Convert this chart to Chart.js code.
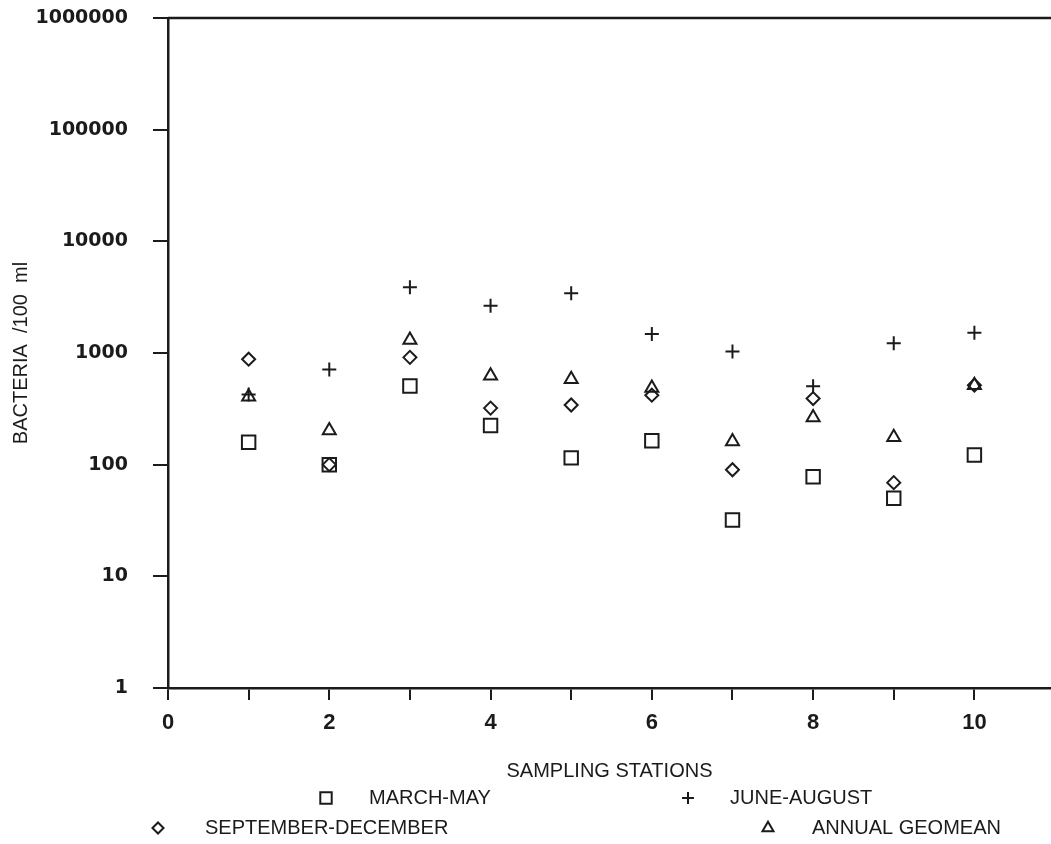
<!DOCTYPE html>
<html>
<head>
<meta charset="utf-8">
<title>Bacteria by sampling station</title>
<script src="https://cdn.jsdelivr.net/npm/chart.js"></script>
<style>
  html, body { margin: 0; padding: 0; background: #fff; }
  #wrap { width: 1051px; height: 844px; }
</style>
</head>
<body>
<div id="wrap"><canvas id="bactChart" width="1051" height="844"></canvas></div>
<script>
// values (bacteria per 100 ml, log scale)
const stations = [1, 2, 3, 4, 5, 6, 7, 8, 9, 10];
const marchMay = [159, 100, 507, 224, 115, 164, 32, 78, 50, 122];
const juneAugust = [425, 713, 3870, 2650, 3420, 1480, 1030, 505, 1220, 1520];
const septDec = [880, 100, 914, 321, 342, 419, 90, 391, 69, 515];
const annualGeomean = [405, 202, 1310, 624, 583, 487, 161, 264, 176, 515];

const seriesNames = ['MARCH-MAY', 'JUNE-AUGUST', 'SEPTEMBER-DECEMBER', 'ANNUAL GEOMEAN'];
const yTicks = [1, 10, 100, 1000, 10000, 100000, 1000000];
const xTicks = [0, 1, 2, 3, 4, 5, 6, 7, 8, 9, 10];

const ink = '#1b1b1b';

function pts(vals) {
  return stations.map((s, i) => ({ x: s, y: vals[i] }));
}

// top frame line of the plot box
const topFrame = {
  id: 'topFrame',
  afterDraw(chart) {
    const { ctx, chartArea } = chart;
    ctx.save();
    ctx.strokeStyle = ink;
    ctx.lineWidth = 2.5;
    ctx.beginPath();
    ctx.moveTo(chartArea.left, chartArea.top);
    ctx.lineTo(chartArea.right, chartArea.top);
    ctx.stroke();
    ctx.restore();
  }
};

// hand placed legend, two rows under the axis title like the original
const legendSpots = {
  id: 'legendSpots',
  afterDraw(chart, args, opts) {
    const ctx = chart.ctx;
    ctx.save();
    ctx.font = opts.font;
    ctx.textBaseline = 'middle';
    ctx.textAlign = 'left';
    chart.data.datasets.forEach((ds, i) => {
      const p = opts.spots[i];
      ctx.strokeStyle = ink;
      ctx.fillStyle = 'rgba(0,0,0,0)';
      ctx.lineWidth = 2;
      Chart.helpers.drawPoint(ctx, { pointStyle: ds.pointStyle, radius: ds.pointRadius * 0.85, rotation: 0, borderWidth: 2 }, p.mx, p.y);
      ctx.fillStyle = ink;
      ctx.fillText(ds.label, p.tx, p.y);
    });
    ctx.restore();
  }
};

const common = { showLine: false, borderColor: ink, backgroundColor: 'rgba(0,0,0,0)', pointBorderWidth: 2, pointHoverRadius: 0 };

new Chart(document.getElementById('bactChart').getContext('2d'), {
  type: 'scatter',
  data: {
    datasets: [
      Object.assign({ label: seriesNames[0], data: pts(marchMay), pointStyle: 'rect', pointRadius: 9.5 }, common),
      Object.assign({ label: seriesNames[1], data: pts(juneAugust), pointStyle: 'cross', pointRadius: 7 }, common),
      Object.assign({ label: seriesNames[2], data: pts(septDec), pointStyle: 'rectRot', pointRadius: 6.5 }, common),
      Object.assign({ label: seriesNames[3], data: pts(annualGeomean), pointStyle: 'triangle', pointRadius: 7.5 }, common)
    ]
  },
  options: {
    responsive: false,
    animation: false,
    layout: { autoPadding: false, padding: { top: 18, right: 0, left: 0, bottom: 0 } },
    plugins: {
      legend: { display: false },
      tooltip: { enabled: false },
      legendSpots: {
        font: '20px "Liberation Sans", Arial, sans-serif',
        spots: [
          { mx: 326, tx: 369, y: 798 },
          { mx: 688, tx: 730, y: 798 },
          { mx: 158, tx: 205, y: 828 },
          { mx: 768, tx: 812, y: 828 }
        ]
      }
    },
    scales: {
      x: {
        type: 'linear',
        position: 'bottom',
        min: 0,
        max: 10.95,
        afterBuildTicks: s => { s.ticks = xTicks.map(v => ({ value: v })); },
        afterFit: s => { s.height = 156; },
        ticks: {
          callback: v => (v % 2 === 0 ? String(v) : ''),
          color: ink,
          padding: 10,
          maxRotation: 0,
          autoSkip: false,
          font: { family: '"Liberation Sans", Arial, sans-serif', size: 22, weight: 'bold' }
        },
        grid: { drawOnChartArea: false, drawTicks: true, tickLength: 12, color: ink, lineWidth: 2 },
        border: { color: ink, width: 2.5 },
        title: {
          display: true,
          text: 'SAMPLING STATIONS',
          color: ink,
          padding: { top: 0, bottom: 61 },
          font: { family: '"Liberation Sans", Arial, sans-serif', size: 20 }
        }
      },
      y: {
        type: 'logarithmic',
        min: 1,
        max: 1000000,
        afterBuildTicks: s => { s.ticks = yTicks.map(v => ({ value: v })); },
        afterFit: s => { s.width = 168; s.paddingTop = 0; s.paddingBottom = 0; },
        ticks: {
          callback: v => String(v),
          color: ink,
          padding: 25,
          autoSkip: false,
          font: { family: '"DejaVu Sans", Verdana, sans-serif', size: 19, weight: 'bold' }
        },
        grid: { drawOnChartArea: false, drawTicks: true, tickLength: 15, color: ink, lineWidth: 2 },
        border: { color: ink, width: 2.5 },
        title: {
          display: true,
          text: 'BACTERIA  /100  ml',
          color: ink,
          padding: { top: 9, bottom: 0 },
          font: { family: '"Liberation Sans", Arial, sans-serif', size: 20 }
        }
      }
    }
  },
  plugins: [topFrame, legendSpots]
});
</script>
</body>
</html>
